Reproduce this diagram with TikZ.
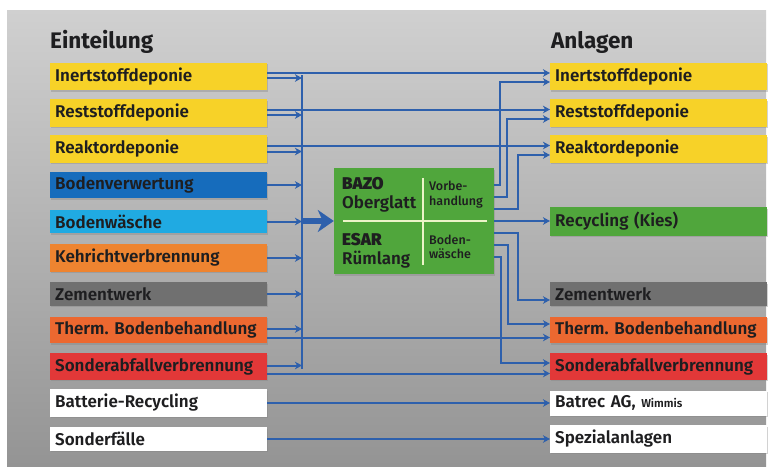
\documentclass[tikz,border=0pt]{standalone}
\usepackage{fontspec}
\setmainfont{Fira Sans}
\newfontfamily\labelfont{Fira Sans SemiBold}
\newfontfamily\thinlabel{Fira Sans Medium}
\usetikzlibrary{arrows.meta,shadows}

\definecolor{bgtop}{RGB}{208,208,208}
\definecolor{bgbot}{RGB}{148,148,148}
\definecolor{cyellow}{RGB}{247,210,40}
\definecolor{cblue}{RGB}{22,108,188}
\definecolor{clightblue}{RGB}{32,170,226}
\definecolor{corange}{RGB}{238,132,48}
\definecolor{cgray}{RGB}{112,112,112}
\definecolor{cred}{RGB}{236,104,48}
\definecolor{cdeepred}{RGB}{226,56,56}
\definecolor{cgreen}{RGB}{80,166,60}
\definecolor{lineblue}{RGB}{46,96,172}
\definecolor{crossline}{RGB}{236,244,200}
\definecolor{txtdark}{RGB}{30,30,32}

\begin{document}
\begin{tikzpicture}[x=1pt, y=-1pt,
    box/.style={rectangle, anchor=west, minimum height=23pt, text width=207pt, inner sep=5pt,
      align=left, text=txtdark, font=\labelfont\fontsize{17}{19}\selectfont,
      drop shadow={shadow xshift=1pt, shadow yshift=-1.5pt, opacity=0.35}},
    head/.style={anchor=base west, inner sep=0pt, text=txtdark, font=\bfseries\fontsize{22.5}{26}\selectfont},
    hubtext/.style={anchor=base west, inner sep=0pt, align=left, text=txtdark},
    flow/.style={draw=lineblue, line width=2pt},
    flowto/.style={flow, -{Stealth[length=7pt,width=7.5pt,inset=2pt]}},
    bigarrow/.style={draw=lineblue, line width=5.5pt, -{Stealth[length=16pt,width=22pt,inset=5pt]}},
    cross/.style={draw=crossline, line width=2pt}]

  \useasboundingbox (0,0) rectangle (771,466);
  \fill[white] (0,0) rectangle (771,466);
  \shade[top color=bgtop, bottom color=bgbot] (7,10) rectangle (766,466);

  \node[head] (einteilung) at (50,48) {Einteilung};
  \node[head] (anlagen) at (551,48) {Anlagen};

  % linke Spalte
  \node[box, fill=cyellow] (l1) at (50,76.5) {Inertstoffdeponie};
  \node[box, fill=cyellow] (l2) at (50,113) {Reststoffdeponie};
  \node[box, fill=cyellow] (l3) at (50,149) {Reaktordeponie};
  \node[box, fill=cblue] (l4) at (50,185) {Bodenverwertung};
  \node[box, fill=clightblue] (l5) at (50,221.5) {Bodenwäsche};
  \node[box, fill=corange] (l6) at (50,258) {Kehrichtverbrennung};
  \node[box, fill=cgray] (l7) at (50,294) {Zementwerk};
  \node[box, fill=cred] (l8) at (50,330) {Therm.\ Bodenbehandlung};
  \node[box, fill=cdeepred] (l9) at (50,366.5) {Sonderabfallverbrennung};
  \node[box, fill=white] (l10) at (50,403) {Batterie-Recycling};
  \node[box, fill=white] (l11) at (50,439) {Sonderfälle};

  % rechte Spalte
  \node[box, fill=cyellow] (r1) at (550,76.5) {Inertstoffdeponie};
  \node[box, fill=cyellow] (r2) at (550,113) {Reststoffdeponie};
  \node[box, fill=cyellow] (r3) at (550,149) {Reaktordeponie};
  \node[box, fill=cgreen] (r5) at (550,221.5) {Recycling (Kies)};
  \node[box, fill=cgray] (r7) at (550,294) {Zementwerk};
  \node[box, fill=cred] (r8) at (550,330) {Therm.\ Bodenbehandlung};
  \node[box, fill=cdeepred] (r9) at (550,366.5) {Sonderabfallverbrennung};
  \node[box, fill=white] (r10) at (550,403) {Batrec AG, {\fontsize{11.5}{12}\selectfont Wimmis}};
  \node[box, fill=white] (r11) at (550,439) {Spezialanlagen};

  % BAZO / ESAR
  \node[fill=cgreen, minimum width=160pt, minimum height=106pt, inner sep=0pt,
    drop shadow={shadow xshift=1pt, shadow yshift=-1.5pt, opacity=0.35}] (hub) at (414,221) {};
  \draw[cross] ([xshift=9pt]hub.west) -- ([xshift=-7pt]hub.east);
  \draw[cross] ([xshift=9pt,yshift=-10pt]hub.north) -- ([xshift=9pt,yshift=9pt]hub.south);
  \node[hubtext, font=\labelfont\fontsize{17}{19}\selectfont] (bazo) at (342,208) {{\bfseries BAZO}\\Oberglatt};
  \node[hubtext, font=\labelfont\fontsize{17}{19}\selectfont] (esar) at (342,264) {{\bfseries ESAR}\\Rümlang};
  \node[hubtext, font=\thinlabel\fontsize{12.5}{15}\selectfont] (vorbe) at (429,205) {Vorbe-\\handlung};
  \node[hubtext, font=\thinlabel\fontsize{12.5}{14}\selectfont] (boden) at (429,258) {Boden-\\wäsche};

  % Sammelschiene
  \coordinate (bustop) at (302,75);
  \coordinate (busbot) at (302,369);
  \draw[flow] (bustop) -- (busbot);
  \draw[bigarrow] (hub.west -| bustop) -- (hub.west);

  \draw[flowto] ([yshift=-1.5pt]l1.east) -- ([yshift=-1.5pt]l1.east -| bustop);
  \draw[flowto] ([yshift=-2pt]l2.east) -- ([yshift=-2pt]l2.east -| bustop);
  \draw[flowto] ([yshift=-2.5pt]l3.east) -- ([yshift=-2.5pt]l3.east -| bustop);
  \draw[flowto] (l4.east) -- (l4.east -| bustop);
  \draw[flowto] (l5.east) -- (l5.east -| bustop);
  \draw[flowto] (l6.east) -- (l6.east -| bustop);
  \draw[flowto] (l7.east) -- (l7.east -| bustop);
  \draw[flowto] ([yshift=1pt]l8.east) -- ([yshift=1pt]l8.east -| bustop);
  \draw[flowto] ([yshift=1pt]l9.east) -- ([yshift=1pt]l9.east -| bustop);

  % direkte Wege
  \draw[flowto] ([yshift=3.5pt]l1.east) -- ([yshift=3.5pt]r1.west);
  \draw[flowto] ([yshift=3.5pt]l2.east) -- ([yshift=3.5pt]r2.west);
  \draw[flowto] ([yshift=3.5pt]l3.east) -- ([yshift=3.5pt]r3.west);
  \draw[flowto] ([yshift=-7.5pt]l8.east) -- ([yshift=-7.5pt]r8.west);
  \draw[flowto] ([yshift=-7pt]l9.east) -- ([yshift=-7pt]r9.west);
  \draw[flowto] (l10.east) -- (r10.west);
  \draw[flowto] (l11.east) -- (r11.west);

  % aus der Aufbereitung
  \draw[flowto] ([yshift=36pt]hub.east) -- ++(6,0) |- ([yshift=-5.5pt]r1.west);
  \draw[flowto] ([yshift=24pt]hub.east) -- ++(13,0) |- ([yshift=-6pt]r2.west);
  \draw[flowto] ([yshift=12pt]hub.east) -- ++(24,0) |- ([yshift=-6pt]r3.west);
  \draw[flowto] (hub.east) -- (hub.east -| r5.west);
  \draw[flowto] ([yshift=-12pt]hub.east) -- ++(24,0) |- ([yshift=-6pt]r7.west);
  \draw[flowto] ([yshift=-24pt]hub.east) -- ++(14,0) |- ([yshift=6pt]r8.west);
  \draw[flowto] ([yshift=-36pt]hub.east) -- ++(7,0) |- ([yshift=3.5pt]r9.west);
\end{tikzpicture}
\end{document}
